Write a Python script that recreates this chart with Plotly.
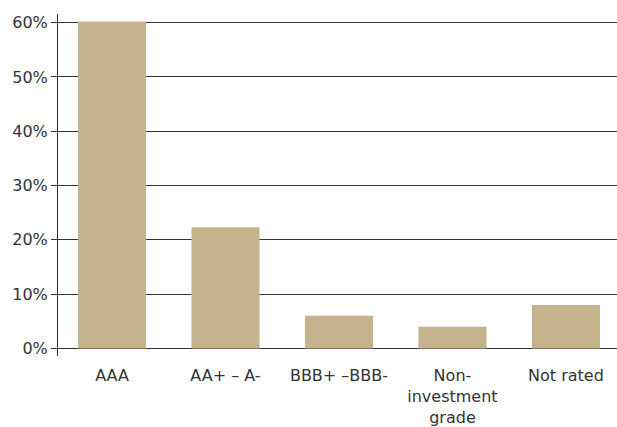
import plotly.graph_objects as go

categories = ["AAA", "AA+ – A-", "BBB+ –BBB-", "Non-<br>investment<br>grade", "Not rated"]
values = [60.2, 22.3, 6.0, 4.0, 8.0]
y_ticks = [0, 10, 20, 30, 40, 50, 60]
y_tick_labels = ["0%", "10%", "20%", "30%", "40%", "50%", "60%"]

fig = go.Figure(go.Bar(
    x=list(range(len(categories))), y=values,
    marker=dict(color="#c4b38c", line=dict(width=0)),
    width=0.6,
))

fig.update_layout(
    width=617, height=427,
    margin=dict(l=58, r=0, t=14, b=69),
    plot_bgcolor="white", paper_bgcolor="white",
    font=dict(family="DejaVu Sans, sans-serif", size=16, color="#333333"),
    showlegend=False,
)
fig.update_xaxes(
    range=[-0.476, 4.45],
    tickvals=list(range(len(categories))), ticktext=categories,
    showgrid=False, zeroline=False, showline=False, ticks="",
    ticklabelstandoff=8,
)
fig.update_yaxes(
    range=[-1.4, 61.6],
    tickvals=y_ticks, ticktext=y_tick_labels,
    showgrid=True, gridcolor="#333333", gridwidth=1,
    zeroline=False,
    showline=True, linecolor="#333333", linewidth=1,
    ticks="outside", ticklen=6, tickcolor="#333333",
)
fig.write_html("out.html")
